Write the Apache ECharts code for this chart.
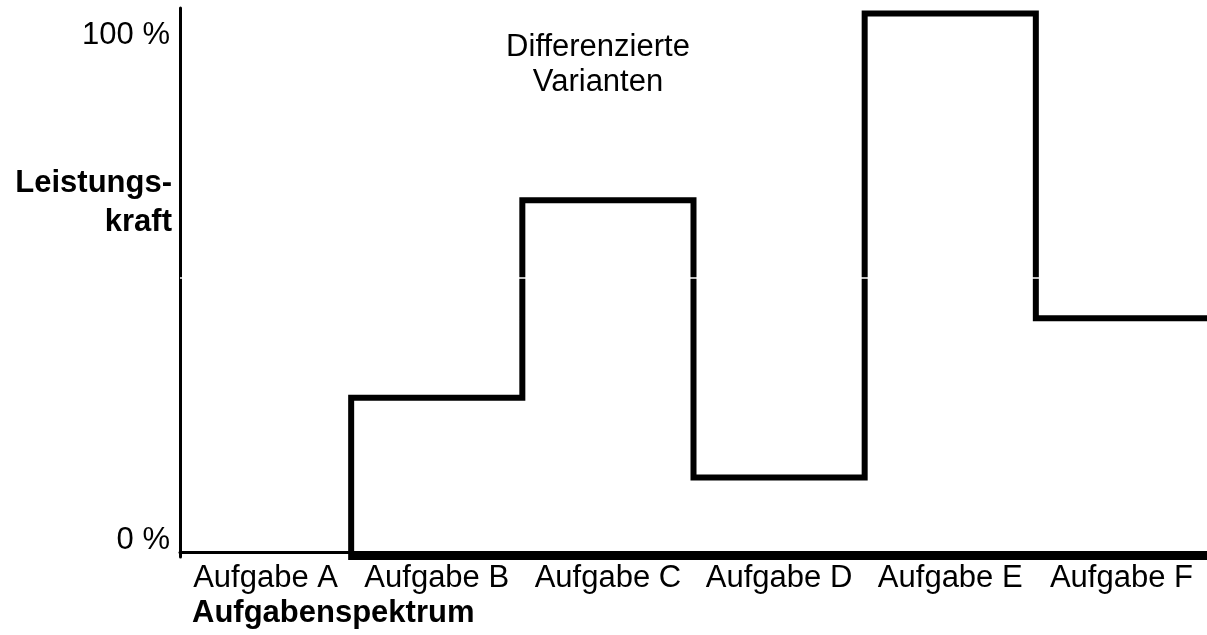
<!DOCTYPE html>
<html>
<head>
<meta charset="utf-8">
<script src="https://cdn.jsdelivr.net/npm/echarts@6/dist/echarts.min.js"></script>
<style>
  html, body { margin: 0; padding: 0; background: #fff; }
  #chart { width: 1207px; height: 635px; }
</style>
</head>
<body>
<div id="chart"></div>
<script>
// Aufgaben (Kategorien) und Leistungskraft je Aufgabe in %
const categories = ['Aufgabe A', 'Aufgabe B', 'Aufgabe C', 'Aufgabe D', 'Aufgabe E', 'Aufgabe F']
const values = [0, 29, 65, 14.5, 99, 43.5]
const yTicks = [0, 100]
const yTitle = ['Leistungs-', 'kraft']
const xTitle = 'Aufgabenspektrum'
const note = ['Differenzierte', 'Varianten']

const FONT = 'Liberation Sans, Arial, sans-serif'
const FS = 31

// Stufenlinie: unten von rechts nach links, dann die Stufen hoch (ab Aufgabe B)
let stepData = [[categories.length, 0], [1, 0]]
for (let i = 1; i < values.length; i++) {
    stepData.push([i, values[i]])
    stepData.push([i + 1, values[i]])
}

const textEl = (text, x, y, align, bold) => ({
    type: 'text',
    x: x,
    y: y,
    style: {
        text: text,
        fontFamily: FONT,
        fontSize: FS,
        fontWeight: bold ? 'bold' : 'normal',
        fill: '#000',
        align: align,
        textAlign: align,
        verticalAlign: 'middle',
        textVerticalAlign: 'middle'
    }
})

const chart = echarts.init(document.getElementById('chart'), null, { renderer: 'canvas' })
chart.setOption({
    animation: false,
    backgroundColor: '#fff',
    grid: { left: 180, right: 0, top: 8, bottom: 78 },
    xAxis: [
        {
            type: 'category',
            data: categories,
            boundaryGap: true,
            position: 'bottom',
            axisLine: { show: false },
            axisTick: { show: false },
            axisLabel: { interval: 0, margin: 6, color: '#000', fontFamily: FONT, fontSize: FS }
        },
        {
            type: 'value',
            min: 0,
            max: categories.length,
            position: 'bottom',
            offset: -5,
            axisLine: { show: true, onZero: false, lineStyle: { color: '#000', width: 3 } },
            axisTick: { show: false },
            axisLabel: { show: false },
            splitLine: { show: false }
        }
    ],
    yAxis: {
        type: 'value',
        min: 0,
        max: 100,
        axisLine: { show: true, lineStyle: { color: '#000', width: 3 } },
        axisTick: { show: false },
        splitLine: { show: false },
        axisLabel: {
            customValues: yTicks,
            margin: 10,
            color: '#000',
            fontFamily: FONT,
            fontSize: FS,
            formatter: (v) => v === 0 ? '{lo|' + v + ' %}' : '{hi|' + v + ' %}',
            rich: {
                lo: { fontFamily: FONT, fontSize: FS, color: '#000', padding: [0, 0, 34, 0] },
                hi: { fontFamily: FONT, fontSize: FS, color: '#000', padding: [54, 0, 0, 0] }
            }
        }
    },
    series: [{
        type: 'line',
        xAxisIndex: 1,
        data: stepData,
        symbol: 'none',
        lineStyle: { color: '#000', width: 6, join: 'miter', cap: 'square' },
        markLine: {
            silent: true,
            symbol: 'none',
            label: { show: false },
            lineStyle: { color: '#fff', width: 1.5, type: 'solid' },
            data: [{ yAxis: 50.8 }]
        }
    }],
    graphic: [
        textEl(yTitle[0], 172, 183, 'right', true),
        textEl(yTitle[1], 172, 222, 'right', true),
        textEl(xTitle, 192, 613, 'left', true),
        textEl(note[0], 598, 47, 'center', false),
        textEl(note[1], 598, 82, 'center', false)
    ]
})
</script>
</body>
</html>
